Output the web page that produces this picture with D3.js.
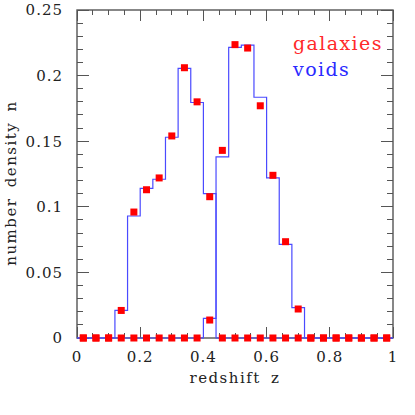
<!DOCTYPE html>
<html>
<head>
<meta charset="utf-8">
<script src="https://cdn.jsdelivr.net/npm/d3@7"></script>
<style>
html,body{margin:0;padding:0;background:#fff;}
svg{display:block;}
text{font-family:"DejaVu Serif","Liberation Serif",serif;}
</style>
</head>
<body>
<script>
// ---- data ----
const binEdges = [0,0.04,0.08,0.12,0.16,0.20,0.24,0.28,0.32,0.36,0.40,0.44,0.48,0.52,0.56,0.60,0.64,0.68,0.72,0.76,0.80,0.84,0.88,0.92,0.96,1.00];
const binCenters = [0.02,0.06,0.10,0.14,0.18,0.22,0.26,0.30,0.34,0.38,0.42,0.46,0.50,0.54,0.58,0.62,0.66,0.70,0.74,0.78,0.82,0.86,0.90,0.94,0.98];
const voidsLow  = [0,0,0,0.021,0.093,0.114,0.121,0.153,0.2055,0.1795,0.110,0,0,0,0,0,0,0,0,0,0,0,0,0,0];
const voidsHigh = [0,0,0,0,0,0,0,0,0,0,0.015,0.138,0.2215,0.2233,0.1835,0.122,0.0714,0.0231,0,0,0,0,0,0,0];
const galaxiesLow  = [0,0,0,0.021,0.096,0.113,0.122,0.154,0.206,0.180,0.1077,0,0,0,0,0,0,0,0,0,0,0,0,0,0];
const galaxiesHigh = [0,0,0,0,0,0,0,0,0,0,0.0137,0.143,0.2236,0.221,0.177,0.124,0.0734,0.0221,0,0,0,0,0,0,0];
const xMajorTicks = [0,0.2,0.4,0.6,0.8,1];
const xTickLabels = ["0","0.2","0.4","0.6","0.8","1"];
const yMajorTicks = [0,0.05,0.1,0.15,0.2,0.25];
const yTickLabels = ["0","0.05","0.1","0.15","0.2","0.25"];
const legendLabels = ["galaxies","voids"];

// ---- layout ----
const W = 415, H = 415;
const L = 77, R = 393, T = 10, B = 338;
const x = d3.scaleLinear().domain([0,1]).range([L,R]);
const y = d3.scaleLinear().domain([0,0.25]).range([B,T]);

const svg = d3.select("body").append("svg").attr("width",W).attr("height",H);

const axisColor = "#555";
const lineBlue = "#4a4aff";

// minor/major ticks
const xMinor = d3.range(0,1.0001,0.05).filter(v => !xMajorTicks.some(m => Math.abs(m-v)<1e-6));
const yMinor = d3.range(0,0.25001,0.01).filter(v => !yMajorTicks.some(m => Math.abs(m-v)<1e-6));

const g = svg.append("g");
function tick(x1,y1,x2,y2){
  g.append("line").attr("x1",x1).attr("y1",y1).attr("x2",x2).attr("y2",y2)
   .attr("stroke",axisColor).attr("stroke-width",1).attr("shape-rendering","crispEdges");
}
xMinor.forEach(v => { tick(x(v),B,x(v),B-5); tick(x(v),T,x(v),T+5); });
xMajorTicks.forEach(v => { tick(x(v),B,x(v),B-11); tick(x(v),T,x(v),T+11); });
yMinor.forEach(v => { tick(L,y(v),L+6,y(v)); tick(R,y(v),R-6,y(v)); });
yMajorTicks.forEach(v => { tick(L,y(v),L+12,y(v)); tick(R,y(v),R-12,y(v)); });

// frame
g.append("rect").attr("x",L).attr("y",T).attr("width",R-L).attr("height",B-T)
 .attr("fill","none").attr("stroke",axisColor).attr("stroke-width",1.4);

// tick labels
svg.append("g").selectAll("text").data(xMajorTicks).join("text")
  .attr("x",d=>x(d)).attr("y",B+24).attr("text-anchor","middle")
  .attr("font-size",15).attr("letter-spacing",1).attr("fill","#222")
  .text((d,i)=>xTickLabels[i]);
svg.append("g").selectAll("text").data(yMajorTicks).join("text")
  .attr("x",L-14).attr("y",d=>y(d)).attr("dy","0.36em").attr("text-anchor","end")
  .attr("font-size",15).attr("letter-spacing",1).attr("fill","#222")
  .text((d,i)=>yTickLabels[i]);

// axis titles
svg.append("text").attr("x",235).attr("y",383).attr("text-anchor","middle")
  .attr("font-size",15).attr("letter-spacing",1.5).attr("word-spacing",4).attr("fill","#222")
  .text("redshift z");
svg.append("text").attr("transform","translate(16,183) rotate(-90)").attr("text-anchor","middle")
  .attr("font-size",15).attr("letter-spacing",1.5).attr("word-spacing",4).attr("fill","#222")
  .text("number density n");

// step histograms
function stepPoints(vals){
  const pts = [];
  vals.forEach((v,i) => { pts.push([binEdges[i],v]); pts.push([binEdges[i+1],v]); });
  return pts;
}
const line = d3.line().x(d=>x(d[0])).y(d=>y(d[1]));
[voidsLow, voidsHigh].forEach(vals => {
  svg.append("path").attr("d",line(stepPoints(vals)))
    .attr("fill","none").attr("stroke",lineBlue).attr("stroke-width",1.2);
});

// galaxy points
const sq = 7;
[galaxiesLow, galaxiesHigh].forEach(vals => {
  svg.append("g").selectAll("rect").data(vals).join("rect")
    .attr("x",(d,i)=>x(binCenters[i])-sq/2).attr("y",d=>y(d)-sq/2)
    .attr("width",sq).attr("height",sq).attr("fill","#ff0000");
});

// legend
svg.append("text").attr("x",293).attr("y",50).attr("font-size",19).attr("letter-spacing",1.4)
  .attr("fill","#ff2a2a").text(legendLabels[0]);
svg.append("text").attr("x",293).attr("y",76).attr("font-size",19).attr("letter-spacing",1.4)
  .attr("fill","#2a2aff").text(legendLabels[1]);
</script>
</body>
</html>
